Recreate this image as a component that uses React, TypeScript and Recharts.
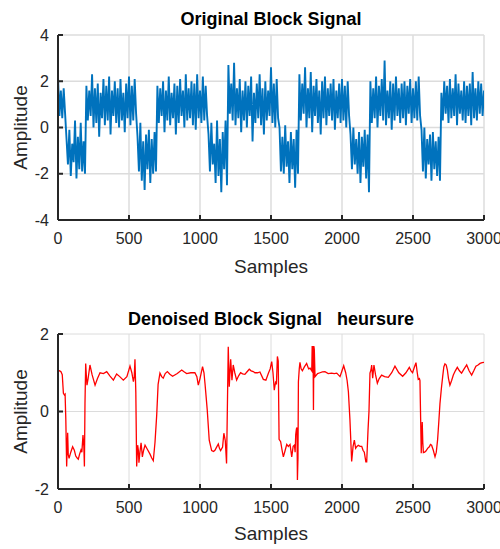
import { LineChart, Line, XAxis, YAxis, CartesianGrid } from 'recharts';

// sample spacing of the digitised noisy signal
const SAMPLE_STEP = 10;

const xTicks = [0, 500, 1000, 1500, 2000, 2500, 3000];
const topYTicks = [-4, -2, 0, 2, 4];
const bottomYTicks = [-2, 0, 2];

// noisy block signal, one value every SAMPLE_STEP samples
const originalSignal = [
  2.2, 0.5, 1.6, 0.4, 1.7, 0.6,
  -0.5, -1.6, -0.1, -2.1, -0.7, -1.5, 0.3, -2.2, -0.4, -1.8, 0.2, -1.9, -0.6, -2.0,
  1.8, 0.3, 1.6, 0.5, 2.3, 0.0, 1.7, 0.2, 1.9, -0.4, 1.5, 0.4, 2.1, 0.1, 1.8, 0.3, 2.2, -0.3,
  1.6, 0.5, 2.0, 0.2, 1.7, 0.0, 2.1, 0.3, 1.5, -0.2, 1.9, 0.4, 2.2, 0.1, 1.8, 0.3, 2.1, 0.6,
  -0.4, -1.9, 0.2, -2.3, -0.6, -2.7, -0.3, -1.8, -0.1, -2.4, -0.5, -2.0, -0.2, -1.9,
  1.8, 0.2, 1.7, 0.5, 2.0, -0.2, 1.6, 0.3, 2.2, 0.1, 1.5, 0.4, 1.9, -0.3, 1.8, 0.2, 2.1, 0.5,
  1.6, 0.0, 2.3, 0.3, 1.7, 0.4, 2.0, 0.1, 1.9, -0.1, 2.3, 0.4, 1.6, 0.2, 2.2, 0.3, 1.8, 0.5,
  -0.3, -1.9, 0.2, -1.6, -0.7, -2.4, 0.3, -2.1, -0.5, -2.8, -0.2, -1.8, 0.3, -2.5,
  2.7, 0.6, 1.9, 0.3, 2.8, 0.1, 1.7, 0.4, 2.1, -0.2, 1.6, 0.3, 2.0, 0.0, 1.8, 0.5, 2.2, -0.6,
  1.5, 0.2, 1.9, 0.4, 2.3, 0.1, 1.7, -0.3, 2.0, 0.3, 1.6, 0.5, 2.6, 0.2, 1.9, 0.0, 2.1, 0.4,
  0.0, -1.9, -0.4, -2.0, 0.1, -1.7, -0.6, -2.4, -0.2, -1.8, -0.5, -2.6, -0.1, -2.0,
  2.3, 0.3, 1.9, 0.6, 2.6, 0.0, 1.7, 0.4, 2.4, -0.2, 1.8, 0.5, 2.1, 0.2, 1.6, -0.3, 2.0, 0.4,
  2.2, 0.1, 1.7, 0.5, 1.9, 0.3, 2.1, -0.1, 1.6, 0.4, 1.9, 0.2, 2.1, 0.3, 1.8, 0.0, 2.0, 0.5,
  -0.3, -1.8, 0.0, -1.6, -0.5, -2.0, -0.2, -2.4, -0.4, -1.7, -0.1, -2.2, -0.3, -2.8,
  2.0, 0.2, 1.7, 0.4, 2.2, 0.0, 1.8, 0.5, 2.1, 0.3, 2.9, 0.1, 1.6, 0.4, 2.0, -0.1, 1.9, 0.3,
  2.2, 0.5, 1.7, 0.2, 1.9, 0.4, 2.0, 0.1, 1.8, 0.6, 2.1, 0.2, 1.7, 0.4, 2.0, 0.3, 2.2, 0.5,
  -0.1, -1.9, 0.0, -2.2, -0.5, -1.6, -0.3, -2.3, -0.2, -1.8, -0.6, -2.1, -0.4, -2.3,
  1.5, 0.3, 2.0, 0.6, 1.8, 0.2, 2.1, 0.4, 1.7, 0.5, 2.3, 0.1, 1.9, 0.6, 1.6, 0.3,
  2.0, 0.2, 1.8, 0.5, 1.9, 0.1, 2.4, 0.4, 1.7, 0.3, 2.0, 0.6, 1.9, 0.5, 1.6,
];

// denoised signal, read at its turning points
const denoisedX = [
  0, 20, 30, 38, 45, 50, 55, 61, 65, 68, 72, 78, 90, 103, 115, 125, 135, 143, 152, 162, 168, 176, 182, 186, 190,
  195, 200, 204, 212, 225, 240, 261, 278, 296, 320, 343, 365, 390, 413, 435, 460, 485, 507, 520, 531, 537, 542, 548,
  554, 561, 566, 570, 577, 585, 590, 594, 603, 613, 630, 648, 660, 671, 683, 695, 705, 718, 730, 741, 755, 770,
  788, 807, 840, 871, 890, 906, 935, 964, 978, 988, 1000, 1018, 1028, 1035, 1045, 1051, 1065, 1082, 1095, 1105,
  1117, 1129, 1137, 1145, 1159, 1168, 1178, 1187, 1199, 1206, 1216, 1225, 1234, 1245, 1258, 1272, 1286, 1300,
  1316, 1330, 1347, 1360, 1375, 1387, 1405, 1422, 1446, 1464, 1481, 1494, 1505, 1514, 1523, 1533, 1538, 1545,
  1551, 1557, 1568, 1578, 1587, 1600, 1611, 1622, 1634, 1646, 1656, 1665, 1670, 1674, 1679, 1683, 1686, 1690,
  1693, 1699, 1704, 1712, 1721, 1735, 1751, 1765, 1775, 1787, 1790, 1793, 1796, 1799, 1802, 1805, 1810, 1828,
  1845, 1862, 1880, 1903, 1927, 1945, 1963, 1986, 2000, 2012, 2026, 2036, 2045, 2056, 2068, 2078, 2087, 2096,
  2105, 2115, 2127, 2139, 2148, 2157, 2168, 2174, 2183, 2190, 2197, 2204, 2209, 2216, 2225, 2236, 2249, 2262,
  2279, 2300, 2326, 2350, 2373, 2400, 2427, 2450, 2474, 2486, 2497, 2510, 2521, 2530, 2537, 2545, 2549, 2554,
  2558, 2562, 2565, 2569, 2573, 2582, 2591, 2603, 2615, 2623, 2631, 2643, 2655, 2664, 2673, 2682, 2690, 2700,
  2709, 2717, 2725, 2734, 2742, 2750, 2760, 2772, 2784, 2798, 2812, 2827, 2842, 2860, 2878, 2895, 2913, 2928,
  2943, 2958, 2972, 2987, 3000,
];
const denoisedY = [
  1.07, 1.03, 0.95, 0.47, 0.43, 0.45, -0.2, -1.42, -0.9, -0.55, -1.1, -1.21, -1.05, -0.91, -1.0, -1.15, -1.2, -1.23, -1.1, -0.99, -1.05, -0.61, -0.9, -1.42, 0.2,
  1.24, 0.9, 0.68, 0.85, 1.2, 0.95, 0.68, 0.85, 1.0, 0.98, 1.03, 0.92, 0.81, 0.97, 0.9, 0.81, 0.9, 1.17, 1.0, 0.77, 0.9, 1.35, 0.5,
  -1.42, -0.87, -1.0, -1.32, -1.05, -0.81, -1.0, -1.17, -1.0, -0.87, -0.98, -1.1, -1.2, -1.27, -0.8, -0.1, 0.7, 0.99, 0.9, 0.86, 0.98, 1.03,
  0.96, 0.91, 0.98, 1.07, 1.02, 0.98, 1.0, 1.0, 0.9, 0.68, 0.85, 1.16, 1.0, 0.73, 0.3, 0.04, -0.74, -1.01, -1.03, -1.0,
  -0.92, -0.84, -0.95, -1.01, -0.92, -0.56, -0.75, -1.34, 1.67, 0.64, 1.35, 0.81, 1.2, 1.0, 0.81, 0.92, 1.0, 0.97,
  0.96, 1.02, 1.09, 1.05, 1.03, 1.0, 1.0, 1.02, 0.83, 0.81, 0.98, 1.1, 1.29, 1.0, 0.55, 0.78, 0.7, 1.42,
  1.3, -0.72, -0.78, -1.0, -1.17, -1.0, -0.85, -0.9, -0.85, -1.17, -0.9, -0.87, -1.05, -0.6, -0.45, -0.41, -1.77, -1.2,
  0.77, 1.1, 1.27, 1.1, 1.05, 1.15, 1.24, 1.1, 1.12, 1.05, 1.69, 1.0, 1.69, 0.04, 1.69, 1.6, 0.9, 0.98,
  1.0, 1.02, 1.03, 0.98, 0.99, 0.98, 0.99, 0.9, 1.05, 1.18, 1.0, 0.8, 0.51, -0.22, -1.29, -0.9, -0.74, -0.95,
  -0.9, -0.87, -0.9, -0.9, -1.0, -1.05, -1.3, -1.3, -0.5, 0.0, 0.99, 1.07, 1.2, 0.86, 1.2, 0.95, 0.73, 0.85,
  0.94, 0.9, 0.88, 1.0, 1.17, 1.0, 0.91, 1.0, 1.14, 1.05, 1.0, 1.15, 1.26, 1.0, 0.83, 0.85, 0.8, -0.22,
  -1.08, -0.6, -0.27, -0.8, -1.06, -1.05, -1.02, -0.95, -0.91, -0.85, -0.87, -1.0, -1.17, -1.05, -0.74, -0.25, 0.21, 0.6,
  0.9, 1.15, 1.23, 1.2, 1.07, 0.85, 0.68, 0.8, 0.94, 1.05, 1.14, 1.05, 0.99, 1.1, 1.2, 1.05, 0.94, 1.05,
  1.17, 1.2, 1.24, 1.26, 1.27,
];

const originalData = originalSignal.map((v, i) => ({ x: i * SAMPLE_STEP, y: v }));
const denoisedData = denoisedX.map((x, i) => ({ x, y: denoisedY[i] }));

const FONT = '"Liberation Sans", Arial, Helvetica, sans-serif';
const AXIS = '#262626';
const GRID = '#dcdcdc';

const tickStyle = { fontSize: 16, fill: AXIS, fontFamily: FONT };
const labelStyle = { fontSize: 19, fill: AXIS, fontFamily: FONT };

function Panel({ data, color, lineWidth, yTicks, yDomain, height, top, samplesOffset, gridWidth }: any) {
  return (
    <LineChart
      width={500}
      height={height}
      data={data}
      margin={{ top, right: 16, bottom: 0, left: 18 }}
    >
      <CartesianGrid stroke={GRID} strokeWidth={gridWidth} />
      <XAxis
        dataKey="x"
        type="number"
        domain={[0, 3000]}
        ticks={xTicks}
        allowDataOverflow
        height={60}
        stroke={AXIS}
        strokeWidth={2}
        tickSize={-5}
        tickMargin={18}
        tick={tickStyle}
        label={{ value: 'Samples', position: 'insideBottom', offset: samplesOffset, style: labelStyle }}
      />
      <XAxis
        xAxisId="top"
        orientation="top"
        dataKey="x"
        type="number"
        domain={[0, 3000]}
        ticks={xTicks}
        height={0}
        stroke={AXIS}
        strokeWidth={2}
        tickSize={-5}
        tick={false}
      />
      <YAxis
        type="number"
        domain={yDomain}
        ticks={yTicks}
        allowDataOverflow
        width={40}
        stroke={AXIS}
        strokeWidth={2}
        tickSize={-5}
        tickMargin={14}
        tick={tickStyle}
        label={{
          value: 'Amplitude',
          angle: -90,
          position: 'insideLeft',
          offset: 2,
          style: { ...labelStyle, textAnchor: 'middle' },
        }}
      />
      <YAxis
        yAxisId="right"
        orientation="right"
        type="number"
        domain={yDomain}
        ticks={yTicks}
        width={0}
        stroke={AXIS}
        strokeWidth={2}
        tickSize={-5}
        tick={false}
      />
      <Line
        type="linear"
        dataKey="y"
        stroke={color}
        strokeWidth={lineWidth}
        dot={false}
        isAnimationActive={false}
      />
    </LineChart>
  );
}

const titleStyle: any = {
  position: 'absolute',
  left: 58,
  width: 426,
  textAlign: 'center',
  fontFamily: FONT,
  fontWeight: 'bold',
  fontSize: 18,
  lineHeight: '18px',
  color: '#000',
  whiteSpace: 'pre',
};

export default function App() {
  return (
    <div style={{ position: 'absolute', left: 0, top: 0, width: 500, height: 549, background: '#fff' }}>
      <div style={{ position: 'absolute', left: 0, top: 0 }}>
        <Panel
          data={originalData}
          color="#0072BD"
          lineWidth={1.9}
          yTicks={topYTicks}
          yDomain={[-4, 4]}
          height={280}
          top={35}
          samplesOffset={7}
          gridWidth={1.5}
        />
      </div>
      <div style={{ position: 'absolute', left: 0, top: 290 }}>
        <Panel
          data={denoisedData}
          color="#FF0000"
          lineWidth={1.3}
          yTicks={bottomYTicks}
          yDomain={[-2, 2]}
          height={259}
          top={44}
          samplesOffset={9}
          gridWidth={1}
        />
      </div>
      <div style={{ ...titleStyle, top: 10 }}>Original Block Signal</div>
      <div style={{ ...titleStyle, top: 310 }}>Denoised Block Signal   heursure</div>
    </div>
  );
}
